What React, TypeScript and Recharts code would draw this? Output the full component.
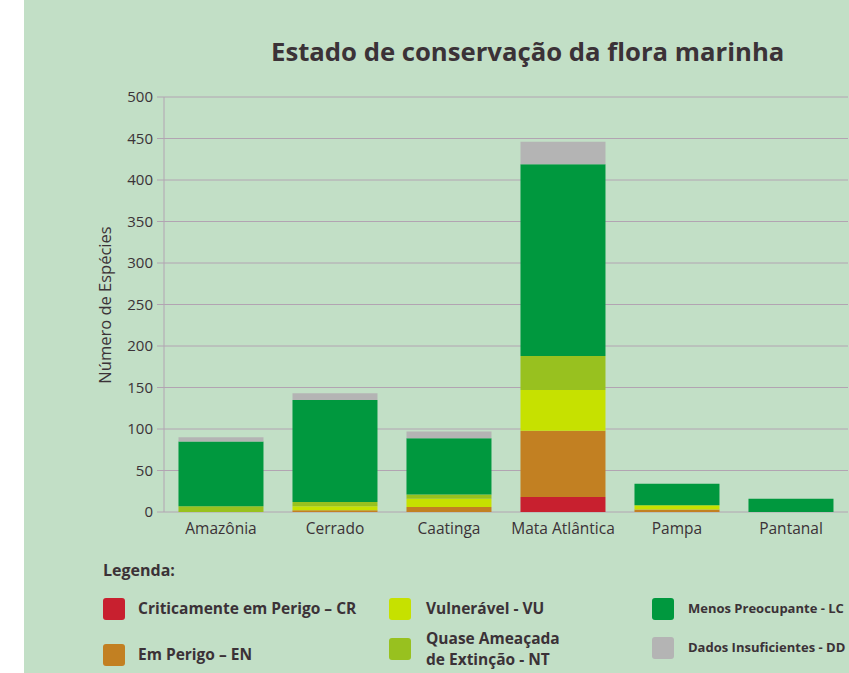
import { BarChart, Bar, XAxis, YAxis, CartesianGrid } from "recharts"

// biomas e contagens por categoria de ameaça
const categories = ["Amazônia", "Cerrado", "Caatinga", "Mata Atlântica", "Pampa", "Pantanal"]
const cr = [0, 0, 0, 18, 0, 0]
const en = [0, 2, 6, 80, 3, 0]
const vu = [0, 5, 10, 49, 5, 0]
const nt = [7, 5, 5, 41, 0, 0]
const lc = [78, 123, 68, 231, 26, 16]
const dd = [5, 8, 8, 27, 0, 0]
const yTicks = [0, 50, 100, 150, 200, 250, 300, 350, 400, 450, 500]

const series = [
  { key: "cr", label: ["Criticamente em Perigo – CR"], color: "#c8202f" },
  { key: "en", label: ["Em Perigo – EN"], color: "#c28022" },
  { key: "vu", label: ["Vulnerável - VU"], color: "#c6e100" },
  { key: "nt", label: ["Quase Ameaçada", "de Extinção - NT"], color: "#98c11f" },
  { key: "lc", label: ["Menos Preocupante - LC"], color: "#00983e" },
  { key: "dd", label: ["Dados Insuficientes - DD"], color: "#b4b4b4" },
]

const data = categories.map((name, i) => ({
  name,
  cr: cr[i],
  en: en[i],
  vu: vu[i],
  nt: nt[i],
  lc: lc[i],
  dd: dd[i],
}))

const textColor = "#3b3237"
const gridColor = "#b2a4b2"
const font = "'Open Sans', sans-serif"

// posição de cada item da legenda: coluna e topo da caixa (a caixa centra quadrado e texto)
const legendCol = [0, 0, 1, 1, 2, 2]
const legendTop = [598, 644, 598, 628, 598, 637]
const legendCols = [103, 389, 652]
const legendTextGap = [13, 15, 14]
// a terceira coluna fica junto à borda direita, por isso a letra é menor
const legendFontSize = [15.5, 15.5, 13]

export default function App() {
  return (
    <div
      style={{
        position: "absolute",
        left: 0,
        top: 0,
        width: 849,
        height: 673,
        overflow: "hidden",
        background: "#fff",
        fontFamily: font,
        color: textColor,
      }}
    >
      <div style={{ position: "absolute", left: 24, top: 0, width: 825, height: 673, background: "#c2dfc6" }} />

      <div
        style={{
          position: "absolute",
          left: 271,
          top: 35,
          fontSize: 25.7,
          fontWeight: 700,
          lineHeight: "34px",
          whiteSpace: "nowrap",
        }}
      >
        Estado de conservação da flora marinha
      </div>

      <div
        style={{
          position: "absolute",
          left: 104,
          top: 305,
          transform: "translate(-50%, -50%) rotate(-90deg)",
          fontSize: 16.5,
          whiteSpace: "nowrap",
        }}
      >
        Número de Espécies
      </div>

      <div style={{ position: "absolute", left: 0, top: 0 }}>
        <BarChart
          width={849}
          height={673}
          data={data}
          margin={{ top: 97, right: 1, bottom: 131, left: 0 }}
          barCategoryGap="12.7%"
        >
          <CartesianGrid vertical={false} stroke={gridColor} />
          <XAxis
            dataKey="name"
            axisLine={false}
            tickLine={false}
            height={30}
            tick={{ fill: textColor, fontSize: 15.5, fontFamily: font, dy: 3 }}
          />
          <YAxis
            width={164}
            domain={[0, 500]}
            ticks={yTicks}
            interval={0}
            tickSize={7}
            tickMargin={4}
            axisLine={{ stroke: gridColor }}
            tickLine={{ stroke: gridColor }}
            tick={{ fill: textColor, fontSize: 15, fontFamily: font }}
          />
          {series.map((s) => (
            <Bar key={s.key} dataKey={s.key} stackId="a" fill={s.color} isAnimationActive={false} />
          ))}
        </BarChart>
      </div>

      <div style={{ position: "absolute", left: 103, top: 559, fontSize: 16, fontWeight: 700, lineHeight: "22px" }}>
        Legenda:
      </div>

      {series.map((s, i) => {
        const col = legendCol[i]
        return (
          <div
            key={s.key}
            style={{
              position: "absolute",
              left: legendCols[col],
              top: legendTop[i],
              height: s.label.length * 21,
              display: "flex",
              alignItems: "center",
              whiteSpace: "nowrap",
            }}
          >
            <div style={{ width: 22, height: 22, borderRadius: 3, background: s.color, flexShrink: 0 }} />
            <div
              style={{
                marginLeft: legendTextGap[col],
                fontSize: legendFontSize[col],
                fontWeight: 700,
                lineHeight: "21px",
              }}
            >
              {s.label.map((l) => (
                <div key={l}>{l}</div>
              ))}
            </div>
          </div>
        )
      })}
    </div>
  )
}
